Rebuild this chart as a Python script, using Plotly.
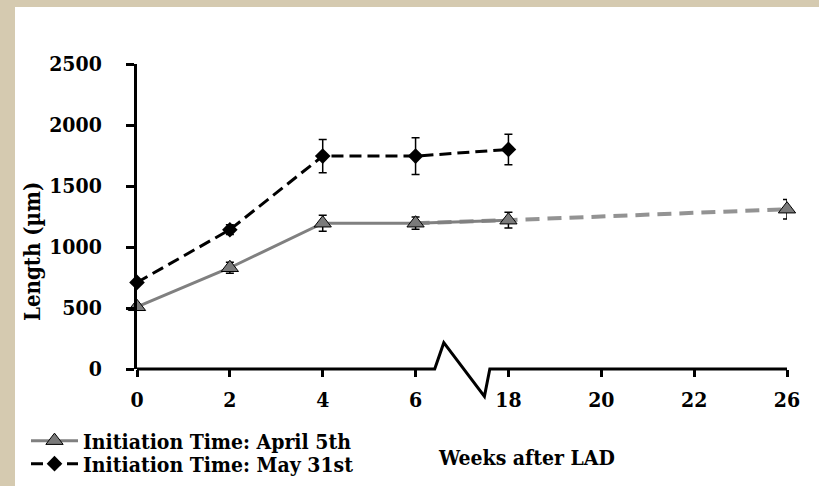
import plotly.graph_objects as go

# ---- data ----
tick_labels = ["0", "2", "4", "6", "18", "20", "22", "26"]
y_ticks = [0, 500, 1000, 1500, 2000, 2500]

april_weeks = ["0", "2", "4", "6", "18", "26"]
april_len = [510, 830, 1195, 1195, 1220, 1310]
april_err = [20, 45, 65, 50, 65, 80]

may_weeks = ["0", "2", "4", "6", "18"]
may_len = [710, 1142, 1745, 1745, 1800]
may_err = [20, 40, 137, 150, 125]

FONT = "DejaVu Serif Condensed, DejaVu Serif"
GRAY = "#808080"
PARCH = "#d5cab0"

L, R, T, B = 137, 32, 64, 117
W, H = 819, 486
PW, PH = W - L - R, H - T - B


def px(xp):
    return (xp - L) / PW


def py(yp):
    return (H - B - yp) / PH


fig = go.Figure()

# April 5th dashed extension (6 -> 18 -> 26)
fig.add_trace(go.Scatter(
    x=april_weeks[3:], y=april_len[3:], mode="lines",
    line=dict(color="rgba(128,128,128,0.85)", width=4, dash="14px,8px"),
    showlegend=False, hoverinfo="skip", cliponaxis=False))

# April 5th measured series (0 -> 18)
fig.add_trace(go.Scatter(
    x=april_weeks[:5], y=april_len[:5], mode="lines+markers",
    name="Initiation Time: April 5th", legend="legend",
    line=dict(color=GRAY, width=3),
    marker=dict(symbol="triangle-up", size=15, color="#7a7a7a",
                line=dict(color="black", width=1)),
    error_y=dict(type="data", array=april_err[:5], color="black",
                 thickness=1.5, width=4),
    cliponaxis=False))

# April 5th last point (26)
fig.add_trace(go.Scatter(
    x=april_weeks[5:], y=april_len[5:], mode="markers",
    marker=dict(symbol="triangle-up", size=15, color="#7a7a7a",
                line=dict(color="black", width=1)),
    error_y=dict(type="data", array=april_err[5:], color="black",
                 thickness=1.5, width=4),
    showlegend=False, cliponaxis=False))

# May 31st series
fig.add_trace(go.Scatter(
    x=may_weeks, y=may_len, mode="lines+markers",
    name="Initiation Time: May 31st", legend="legend2",
    line=dict(color="black", width=3, dash="12px,6px"),
    marker=dict(symbol="diamond", size=12, color="black"),
    error_y=dict(type="data", array=may_err, color="black",
                 thickness=1.5, width=4),
    cliponaxis=False))

# ---- decorations ----
shapes = [
    dict(type="rect", xref="paper", yref="paper", layer="below",
         x0=px(-20), x1=px(15), y0=py(500), y1=py(-20),
         fillcolor=PARCH, line=dict(width=0)),
    dict(type="rect", xref="paper", yref="paper", layer="below",
         x0=px(-20), x1=px(840), y0=py(7), y1=py(-20),
         fillcolor=PARCH, line=dict(width=0)),
    # x axis with break
    dict(type="path", xref="x domain", yref="y domain", layer="above",
         path="M 0,0 L 0.458,0 L 0.472,0.0862 L 0.5345,-0.0898 "
              "L 0.5428,0 L 1,0",
         line=dict(color="black", width=3)),
]

annotations = [
    dict(text="Length (µm)", textangle=-90, xref="paper", yref="paper",
         x=px(32), y=py(252), xanchor="center", yanchor="middle",
         showarrow=False,
         font=dict(family=FONT, size=22, color="black", weight="bold")),
    dict(text="Weeks after LAD", xref="paper", yref="paper",
         x=px(526), y=py(457), xanchor="center", yanchor="middle",
         showarrow=False,
         font=dict(family=FONT, size=21, color="black", weight="bold")),
]

leg_common = dict(xanchor="left", yanchor="middle", itemwidth=47,
                  bgcolor="rgba(0,0,0,0)", borderwidth=0,
                  font=dict(family=FONT, size=21, color="black",
                            weight="bold"))

fig.update_layout(
    width=W, height=H,
    margin=dict(l=L, r=R, t=T, b=B, autoexpand=False),
    paper_bgcolor="white", plot_bgcolor="white",
    shapes=shapes, annotations=annotations,
    showlegend=True,
    legend=dict(x=px(26), y=py(441), **leg_common),
    legend2=dict(x=px(26), y=py(464), **leg_common),
    xaxis=dict(type="category", categoryorder="array",
               categoryarray=tick_labels, tickvals=tick_labels,
               range=[0, 7], showline=False, showgrid=False,
               zeroline=False, ticks="outside", ticklen=7, tickwidth=2.5,
               tickcolor="black", ticklabelstandoff=5,
               tickfont=dict(family=FONT, size=21, color="black",
                             weight="bold")),
    yaxis=dict(range=[0, 2500], tickvals=y_ticks, showline=True,
               linecolor="black", linewidth=3, showgrid=False,
               zeroline=False, ticks="outside", ticklen=8, tickwidth=2.5,
               tickcolor="black", ticklabelstandoff=20,
               tickfont=dict(family=FONT, size=21, color="black",
                             weight="bold")),
)

fig.write_html("out.html")
